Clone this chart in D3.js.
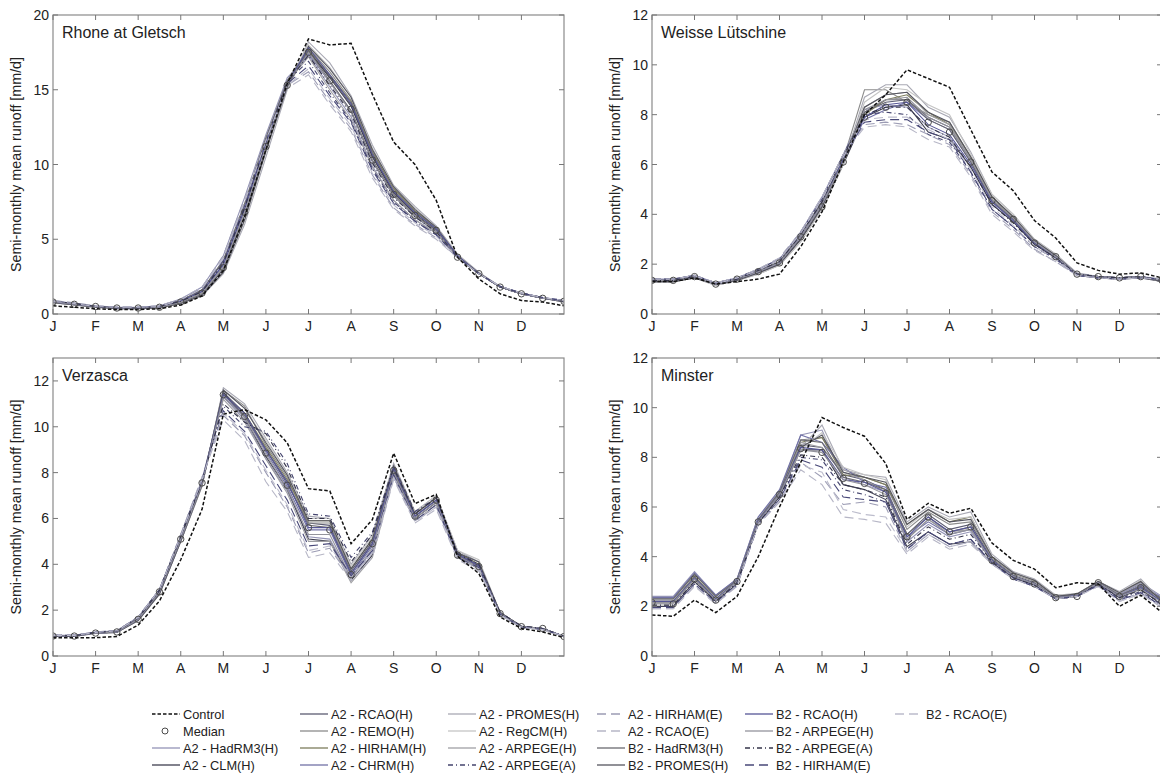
<!DOCTYPE html>
<html>
<head>
<meta charset="utf-8">
<script src="https://cdn.jsdelivr.net/npm/d3@7/dist/d3.min.js"></script>
<style>
  body { margin: 0; background: #fff; }
  text { font-family: Arial, "Liberation Sans", sans-serif; fill: #222; }
</style>
</head>
<body>
<svg id="chart" width="1160" height="776"></svg>
<script>
// month tick labels (ticks at the start of each month, semi-monthly points)
const months = ["J", "F", "M", "A", "M", "J", "J", "A", "S", "O", "N", "D"];

const scenarioNames = [
  "A2 - RCAO(H)", "A2 - REMO(H)", "A2 - HadRM3(H)", "A2 - HIRHAM(H)", "A2 - CLM(H)",
  "A2 - CHRM(H)", "A2 - PROMES(H)", "A2 - RegCM(H)", "A2 - ARPEGE(H)", "A2 - ARPEGE(A)",
  "A2 - HIRHAM(E)", "A2 - RCAO(E)", "B2 - HadRM3(H)", "B2 - PROMES(H)", "B2 - RCAO(H)",
  "B2 - ARPEGE(H)", "B2 - ARPEGE(A)", "B2 - HIRHAM(E)", "B2 - RCAO(E)"
];

// legend entries, filled column by column (4 per column)
const legendOrder = [
  "Control", "Median", "A2 - HadRM3(H)", "A2 - CLM(H)",
  "A2 - RCAO(H)", "A2 - REMO(H)", "A2 - HIRHAM(H)", "A2 - CHRM(H)",
  "A2 - PROMES(H)", "A2 - RegCM(H)", "A2 - ARPEGE(H)", "A2 - ARPEGE(A)",
  "A2 - HIRHAM(E)", "A2 - RCAO(E)", "B2 - HadRM3(H)", "B2 - PROMES(H)",
  "B2 - RCAO(H)", "B2 - ARPEGE(H)", "B2 - ARPEGE(A)", "B2 - HIRHAM(E)",
  "B2 - RCAO(E)"
];

// ---- Rhone at Gletsch ----
const rhoneControl = [0.55,0.45,0.35,0.3,0.3,0.35,0.6,1.2,2.9,6.5,11.0,15.4,18.4,18.0,18.1,14.7,11.5,10.0,7.6,3.8,2.35,1.35,0.9,0.8,0.55];
const rhoneMedian = [0.8,0.65,0.5,0.4,0.4,0.45,0.8,1.4,3.1,6.8,11.2,15.3,17.5,15.6,13.7,10.3,8.0,6.6,5.6,3.8,2.7,1.8,1.35,1.05,0.85];
const rhoneScenarios = [
  [0.85,0.7,0.5,0.4,0.4,0.5,0.9,1.6,3.5,7.2,11.6,15.5,17.6,15.9,14.0,10.6,8.2,6.8,5.7,3.9,2.7,1.8,1.35,1.05,0.85],
  [0.8,0.65,0.5,0.4,0.4,0.45,0.8,1.4,3.2,7.0,11.4,15.6,17.8,16.2,14.3,10.9,8.3,6.9,5.7,3.9,2.7,1.8,1.35,1.05,0.85],
  [0.9,0.7,0.55,0.45,0.45,0.55,1.0,1.8,3.9,7.8,12.0,15.8,17.3,15.2,13.2,9.9,7.6,6.3,5.4,3.8,2.7,1.85,1.4,1.1,0.9],
  [0.8,0.65,0.5,0.4,0.4,0.45,0.8,1.4,3.1,6.9,11.3,15.4,17.7,16.0,14.2,10.8,8.4,6.9,5.8,3.9,2.7,1.8,1.35,1.05,0.85],
  [0.8,0.65,0.5,0.4,0.4,0.45,0.75,1.3,3.0,6.6,11.0,15.2,17.6,15.8,13.9,10.5,8.1,6.7,5.6,3.8,2.7,1.8,1.35,1.05,0.85],
  [0.85,0.7,0.5,0.4,0.4,0.5,0.85,1.5,3.3,7.1,11.5,15.4,17.4,15.5,13.6,10.2,7.9,6.5,5.5,3.8,2.7,1.8,1.35,1.05,0.85],
  [0.75,0.6,0.45,0.35,0.35,0.4,0.7,1.2,2.7,6.0,10.5,15.0,18.2,16.8,14.6,11.3,8.6,7.2,5.9,4.0,2.8,1.85,1.4,1.05,0.8],
  [0.75,0.6,0.45,0.35,0.35,0.4,0.7,1.25,2.8,6.2,10.8,15.2,18.0,16.5,14.5,11.1,8.5,7.1,5.8,3.95,2.75,1.8,1.35,1.05,0.8],
  [0.8,0.65,0.5,0.4,0.4,0.45,0.8,1.45,3.2,6.9,11.3,15.5,17.2,15.0,13.0,9.8,7.6,6.3,5.4,3.8,2.7,1.8,1.35,1.05,0.85],
  [0.85,0.7,0.5,0.4,0.4,0.5,0.9,1.6,3.5,7.3,11.6,15.6,16.9,14.8,12.9,9.7,7.5,6.2,5.3,3.8,2.7,1.85,1.4,1.1,0.9],
  [0.9,0.75,0.55,0.45,0.45,0.55,1.0,1.8,3.9,7.7,11.8,15.3,16.2,14.2,12.4,9.3,7.1,6.0,5.1,3.75,2.7,1.85,1.4,1.1,0.9],
  [0.9,0.75,0.55,0.45,0.45,0.55,1.0,1.8,3.8,7.6,11.7,15.1,16.0,14.0,12.2,9.1,7.0,5.9,5.0,3.75,2.7,1.85,1.4,1.1,0.9],
  [0.85,0.7,0.5,0.4,0.4,0.5,0.9,1.6,3.6,7.4,11.8,15.6,17.6,15.6,13.6,10.3,8.0,6.6,5.6,3.85,2.7,1.8,1.35,1.05,0.85],
  [0.75,0.6,0.45,0.35,0.35,0.4,0.7,1.25,2.8,6.3,10.9,15.2,17.9,16.4,14.5,11.0,8.5,7.0,5.8,3.9,2.75,1.8,1.35,1.05,0.8],
  [0.8,0.65,0.5,0.4,0.4,0.45,0.85,1.5,3.3,7.0,11.4,15.4,17.8,16.0,14.1,10.7,8.2,6.8,5.7,3.9,2.7,1.8,1.35,1.05,0.85],
  [0.8,0.65,0.5,0.4,0.4,0.45,0.8,1.4,3.1,6.8,11.2,15.4,17.5,15.5,13.5,10.2,7.9,6.5,5.5,3.8,2.7,1.8,1.35,1.05,0.85],
  [0.85,0.7,0.5,0.4,0.4,0.5,0.85,1.5,3.4,7.1,11.5,15.5,17.3,15.3,13.4,10.1,7.8,6.5,5.5,3.8,2.7,1.8,1.4,1.1,0.85],
  [0.85,0.7,0.5,0.45,0.45,0.5,0.95,1.7,3.6,7.4,11.6,15.4,16.6,14.6,12.8,9.6,7.4,6.2,5.3,3.8,2.7,1.85,1.4,1.1,0.9],
  [0.85,0.7,0.5,0.45,0.45,0.5,0.95,1.7,3.7,7.5,11.6,15.3,16.4,14.4,12.6,9.4,7.3,6.1,5.2,3.8,2.7,1.85,1.4,1.1,0.9]
];

// ---- Weisse Lütschine ----
const weisseControl = [1.3,1.3,1.45,1.2,1.3,1.4,1.6,2.7,4.1,6.1,8.0,8.8,9.8,9.45,9.1,7.4,5.7,4.95,3.75,3.05,2.05,1.75,1.6,1.65,1.45];
const weisseMedian = [1.35,1.35,1.5,1.2,1.4,1.7,2.05,3.1,4.3,6.1,7.9,8.3,8.5,7.7,7.3,6.1,4.55,3.8,2.85,2.3,1.6,1.5,1.45,1.5,1.35];
const weisseScenarios = [
  [1.3,1.35,1.5,1.2,1.4,1.7,2.1,3.2,4.5,6.3,8.1,8.5,8.6,7.9,7.5,6.2,4.6,3.85,2.9,2.3,1.6,1.5,1.45,1.5,1.3],
  [1.35,1.35,1.5,1.2,1.4,1.7,2.0,3.0,4.3,6.2,9.0,9.0,8.5,8.0,7.7,6.3,4.7,3.9,2.9,2.35,1.6,1.5,1.45,1.5,1.35],
  [1.4,1.4,1.55,1.25,1.45,1.8,2.2,3.3,4.7,6.4,8.2,8.4,8.3,7.5,7.1,5.9,4.4,3.7,2.8,2.25,1.6,1.5,1.45,1.5,1.4],
  [1.3,1.3,1.45,1.2,1.35,1.65,2.0,3.0,4.3,6.1,8.0,8.6,8.8,8.1,7.6,6.3,4.7,3.9,2.95,2.35,1.6,1.5,1.45,1.5,1.3],
  [1.3,1.3,1.5,1.15,1.35,1.65,2.0,3.0,4.2,6.0,7.9,8.3,8.4,7.3,7.0,5.9,4.4,3.7,2.8,2.25,1.55,1.45,1.4,1.45,1.3],
  [1.35,1.35,1.5,1.2,1.4,1.7,2.05,3.1,4.4,6.2,7.8,8.2,8.5,7.8,7.4,6.1,4.5,3.8,2.85,2.3,1.6,1.5,1.45,1.5,1.35],
  [1.3,1.3,1.45,1.15,1.35,1.6,1.95,2.9,4.2,6.0,8.7,9.2,9.2,8.3,7.9,6.5,4.8,4.0,3.0,2.4,1.65,1.5,1.45,1.5,1.3],
  [1.3,1.3,1.45,1.15,1.35,1.6,1.95,2.9,4.2,6.0,8.5,9.1,9.0,8.4,8.0,6.4,4.8,4.0,3.0,2.4,1.6,1.5,1.45,1.5,1.3],
  [1.35,1.35,1.5,1.2,1.4,1.7,2.1,3.1,4.4,6.2,8.3,8.8,8.9,8.0,7.6,6.2,4.6,3.85,2.9,2.3,1.6,1.5,1.45,1.5,1.35],
  [1.4,1.4,1.55,1.25,1.45,1.8,2.2,3.3,4.6,6.4,8.0,8.1,8.0,7.2,6.9,5.7,4.2,3.5,2.7,2.2,1.55,1.45,1.4,1.45,1.4],
  [1.4,1.4,1.55,1.25,1.45,1.8,2.25,3.3,4.7,6.4,7.6,7.7,7.6,7.2,6.8,5.6,4.1,3.4,2.6,2.1,1.55,1.45,1.4,1.45,1.4],
  [1.4,1.4,1.55,1.25,1.45,1.8,2.25,3.3,4.7,6.4,7.5,7.6,7.5,7.0,6.7,5.5,4.0,3.3,2.55,2.1,1.55,1.45,1.4,1.45,1.4],
  [1.35,1.35,1.5,1.2,1.4,1.75,2.1,3.2,4.5,6.3,8.1,8.6,8.6,7.8,7.4,6.1,4.55,3.8,2.85,2.3,1.6,1.5,1.45,1.5,1.35],
  [1.3,1.3,1.45,1.2,1.35,1.65,2.0,3.0,4.3,6.1,8.3,8.8,8.9,8.1,7.7,6.3,4.7,3.9,2.95,2.35,1.6,1.5,1.45,1.5,1.3],
  [1.35,1.35,1.5,1.2,1.4,1.7,2.05,3.1,4.4,6.2,7.9,8.4,8.5,7.6,7.2,6.0,4.5,3.75,2.85,2.3,1.6,1.5,1.45,1.5,1.35],
  [1.35,1.35,1.5,1.2,1.4,1.7,2.05,3.1,4.4,6.1,8.2,8.6,8.7,7.9,7.5,6.2,4.6,3.85,2.9,2.3,1.6,1.5,1.45,1.5,1.35],
  [1.35,1.35,1.5,1.2,1.4,1.75,2.1,3.2,4.5,6.3,8.0,8.3,8.3,7.5,7.1,5.9,4.4,3.65,2.8,2.25,1.6,1.5,1.45,1.5,1.35],
  [1.4,1.4,1.55,1.2,1.45,1.75,2.2,3.25,4.6,6.3,7.7,7.8,7.8,7.3,7.0,5.7,4.2,3.5,2.7,2.2,1.55,1.45,1.4,1.45,1.4],
  [1.4,1.4,1.55,1.2,1.45,1.75,2.2,3.25,4.6,6.3,7.8,7.9,7.9,7.4,7.0,5.8,4.3,3.55,2.7,2.2,1.55,1.45,1.4,1.45,1.4]
];

// ---- Verzasca ----
const verzascaControl = [0.8,0.8,0.8,0.85,1.35,2.4,4.2,6.4,10.55,10.75,10.3,9.3,7.3,7.2,4.9,5.95,8.85,6.65,7.05,4.35,3.6,1.7,1.2,1.05,0.8];
const verzascaMedian = [0.87,0.87,1.0,1.05,1.6,2.8,5.1,7.55,11.4,10.45,8.85,7.45,5.6,5.5,3.55,4.9,8.1,6.1,6.8,4.4,3.9,1.85,1.28,1.2,0.85];
const verzascaScenarios = [
  [0.87,0.87,1.0,1.1,1.65,2.9,5.2,7.6,11.5,10.6,9.0,7.5,5.8,5.7,3.7,5.0,8.2,6.2,6.9,4.5,4.0,1.9,1.3,1.2,0.85],
  [0.87,0.87,1.0,1.05,1.6,2.8,5.1,7.5,11.6,10.9,9.2,7.8,5.8,5.8,3.6,4.9,8.1,6.1,6.8,4.4,3.9,1.85,1.3,1.2,0.85],
  [0.9,0.9,1.05,1.1,1.7,2.9,5.2,7.7,11.3,10.3,8.6,7.2,5.2,5.1,3.4,4.6,7.9,6.0,6.7,4.4,3.9,1.85,1.3,1.2,0.87],
  [0.87,0.87,1.0,1.05,1.6,2.8,5.1,7.5,11.4,10.6,9.1,7.7,5.9,5.9,3.8,5.1,8.3,6.2,6.9,4.5,4.0,1.9,1.3,1.2,0.85],
  [0.85,0.85,1.0,1.05,1.6,2.75,5.0,7.5,11.5,10.4,8.7,7.3,5.1,5.0,3.3,4.4,8.0,6.0,6.7,4.4,3.9,1.85,1.28,1.18,0.85],
  [0.87,0.87,1.0,1.05,1.6,2.8,5.1,7.55,11.3,10.5,8.9,7.4,5.5,5.5,3.5,4.8,8.1,6.1,6.8,4.4,3.9,1.85,1.28,1.2,0.85],
  [0.85,0.85,0.98,1.03,1.55,2.7,5.0,7.4,11.7,11.0,9.5,8.0,6.1,6.0,4.0,5.3,8.4,6.3,7.0,4.6,4.1,1.9,1.3,1.2,0.85],
  [0.85,0.85,0.98,1.03,1.55,2.7,5.0,7.4,11.6,10.8,9.4,7.9,6.0,6.0,3.9,5.2,8.3,6.3,7.0,4.6,4.2,1.9,1.3,1.2,0.85],
  [0.87,0.87,1.0,1.05,1.6,2.8,5.1,7.5,11.2,10.2,8.6,7.1,5.0,5.0,3.2,4.3,7.8,5.9,6.6,4.3,3.8,1.8,1.25,1.15,0.85],
  [0.9,0.9,1.05,1.1,1.7,2.9,5.3,7.7,10.9,10.0,9.8,8.4,6.2,6.1,4.3,5.4,8.3,6.3,6.9,4.5,4.0,1.9,1.3,1.2,0.87],
  [0.9,0.9,1.05,1.1,1.7,2.9,5.3,7.8,10.5,9.6,8.0,6.5,4.5,4.7,3.4,4.5,7.8,5.9,6.5,4.3,3.8,1.8,1.25,1.15,0.87],
  [0.9,0.9,1.05,1.1,1.7,2.9,5.3,7.8,10.3,9.4,7.6,6.3,4.3,4.5,3.3,4.3,7.7,5.8,6.4,4.2,3.7,1.8,1.25,1.15,0.87],
  [0.88,0.88,1.0,1.08,1.65,2.85,5.2,7.6,11.4,10.5,9.0,7.6,5.7,5.6,3.6,4.9,8.1,6.1,6.8,4.4,3.95,1.85,1.28,1.2,0.85],
  [0.85,0.85,1.0,1.03,1.55,2.7,5.0,7.45,11.6,10.8,9.3,7.9,5.9,5.9,3.8,5.1,8.3,6.2,6.9,4.5,4.1,1.9,1.3,1.2,0.85],
  [0.87,0.87,1.0,1.05,1.6,2.8,5.1,7.55,11.4,10.6,9.0,7.6,5.6,5.6,3.6,4.9,8.2,6.1,6.8,4.45,3.95,1.85,1.28,1.2,0.85],
  [0.87,0.87,1.0,1.05,1.6,2.8,5.1,7.5,11.3,10.4,8.8,7.3,5.3,5.3,3.4,4.7,8.0,6.0,6.7,4.35,3.85,1.85,1.28,1.2,0.85],
  [0.88,0.88,1.02,1.08,1.65,2.85,5.2,7.6,11.0,10.2,9.7,8.2,6.0,6.0,4.1,5.3,8.2,6.2,6.9,4.45,4.0,1.9,1.3,1.2,0.87],
  [0.9,0.9,1.03,1.1,1.68,2.9,5.25,7.7,10.7,9.8,8.3,6.8,4.8,4.9,3.5,4.6,7.9,5.9,6.6,4.3,3.85,1.82,1.26,1.16,0.87],
  [0.9,0.9,1.03,1.1,1.68,2.9,5.25,7.7,10.6,9.7,8.1,6.6,4.6,4.8,3.4,4.5,7.8,5.85,6.5,4.25,3.8,1.8,1.25,1.15,0.87]
];

// ---- Minster ----
const minsterControl = [1.65,1.6,2.25,1.75,2.4,4.0,6.0,7.8,9.6,9.2,8.85,7.75,5.5,6.15,5.75,5.95,4.55,3.85,3.5,2.75,2.95,2.9,2.0,2.45,1.75];
const minsterMedian = [2.15,2.1,3.1,2.25,3.0,5.4,6.5,8.35,8.2,7.15,6.95,6.55,4.8,5.6,5.0,5.2,3.85,3.2,2.9,2.35,2.4,2.95,2.4,2.75,2.2];
const minsterScenarios = [
  [2.2,2.2,3.2,2.3,3.0,5.5,6.5,8.5,8.4,7.3,7.1,6.7,4.9,5.7,5.1,5.3,3.9,3.25,2.95,2.35,2.45,2.95,2.45,2.8,2.2],
  [2.3,2.3,3.3,2.4,3.05,5.5,6.6,8.7,8.8,7.5,7.2,6.9,5.1,5.8,5.3,5.4,3.95,3.3,3.0,2.4,2.45,2.95,2.5,2.9,2.3],
  [2.4,2.4,3.4,2.45,3.1,5.6,6.6,8.9,9.1,7.2,6.9,6.6,4.6,5.3,4.8,5.0,3.8,3.2,2.9,2.35,2.4,2.9,2.5,2.95,2.4],
  [2.2,2.2,3.2,2.3,3.0,5.4,6.5,8.6,8.8,7.3,7.2,6.9,5.3,5.9,5.4,5.6,4.0,3.35,3.05,2.4,2.5,3.0,2.55,3.0,2.25],
  [2.0,2.0,3.0,2.2,2.9,5.35,6.4,8.3,8.3,6.9,6.7,6.3,4.4,5.0,4.5,4.6,3.75,3.15,2.85,2.3,2.4,2.9,2.35,2.7,2.05],
  [2.35,2.35,3.35,2.45,3.1,5.6,6.7,8.9,8.6,7.6,7.0,6.8,4.8,5.4,4.9,5.1,3.85,3.2,2.9,2.35,2.45,2.9,2.45,2.85,2.35],
  [2.1,2.1,3.1,2.25,3.0,5.4,6.5,8.4,9.3,7.5,7.3,7.2,5.4,6.0,5.6,5.8,4.1,3.4,3.1,2.45,2.5,3.0,2.6,3.1,2.2],
  [2.1,2.1,3.1,2.25,3.0,5.4,6.5,8.3,9.0,7.6,7.3,7.1,5.2,5.9,5.5,5.6,4.0,3.35,3.05,2.45,2.5,3.0,2.55,3.05,2.15],
  [2.2,2.2,3.15,2.3,3.0,5.5,6.6,8.6,8.4,7.4,7.1,6.6,4.7,5.5,5.0,5.1,3.85,3.2,2.9,2.35,2.4,2.95,2.45,2.75,2.2],
  [2.0,2.0,2.9,2.15,2.9,5.3,6.3,8.0,7.9,6.7,6.5,6.2,4.3,5.0,4.5,4.7,3.75,3.15,2.85,2.3,2.4,2.85,2.3,2.6,2.05],
  [1.95,1.95,2.85,2.1,2.85,5.3,6.2,7.8,7.2,6.1,6.2,6.0,4.2,4.9,4.4,4.6,3.7,3.1,2.8,2.3,2.4,2.85,2.25,2.55,2.0],
  [1.9,1.9,2.8,2.1,2.8,5.3,6.2,7.5,6.9,5.6,5.5,5.35,4.1,4.8,4.3,4.5,3.7,3.1,2.8,2.3,2.4,2.8,2.2,2.5,1.95],
  [2.3,2.3,3.3,2.4,3.05,5.5,6.6,8.7,8.6,7.2,7.0,6.7,4.9,5.6,5.0,5.2,3.85,3.2,2.9,2.35,2.4,2.95,2.45,2.8,2.3],
  [2.15,2.15,3.1,2.25,3.0,5.4,6.5,8.4,8.9,7.4,7.2,7.0,5.3,5.9,5.4,5.5,4.0,3.35,3.05,2.4,2.5,3.0,2.55,3.0,2.2],
  [2.2,2.2,3.15,2.3,3.0,5.45,6.5,8.4,8.3,7.1,7.0,6.6,4.8,5.6,5.0,5.2,3.85,3.2,2.9,2.35,2.4,2.95,2.4,2.75,2.2],
  [2.15,2.15,3.1,2.25,3.0,5.4,6.5,8.3,8.2,7.1,6.9,6.5,4.7,5.5,4.9,5.1,3.8,3.2,2.9,2.35,2.4,2.95,2.4,2.7,2.15],
  [2.05,2.05,3.0,2.2,2.95,5.35,6.4,8.1,8.0,6.9,6.7,6.4,4.5,5.2,4.7,4.9,3.8,3.15,2.85,2.3,2.4,2.9,2.35,2.65,2.1],
  [1.95,1.95,2.9,2.15,2.85,5.3,6.3,7.9,7.6,6.4,6.3,6.2,4.3,5.0,4.5,4.7,3.75,3.1,2.8,2.3,2.4,2.85,2.25,2.55,2.0],
  [1.9,1.9,2.85,2.1,2.85,5.3,6.25,7.7,7.4,5.9,5.7,5.6,4.2,4.9,4.4,4.6,3.7,3.1,2.8,2.3,2.4,2.8,2.2,2.5,1.95]
];

// line styles per scenario (same order as scenarioNames)
const scenarioColors = [
  "#5c5c72", "#8c8c8c", "#9494b6", "#7c7c5c", "#3e3e50", "#7272a6", "#a9a9b4", "#c4c4c4",
  "#a0a0a4", "#44446e", "#9c9cb4", "#b6b6c6", "#6a6a70", "#55555f", "#565696", "#94949c",
  "#34344a", "#484878", "#bcbccc"
];
const scenarioDash = [
  null, null, null, null, null, null, null, null, null, "5,3,1,3",
  "9,5", "9,5", null, null, null, null, "5,3,1,3", "9,5", "9,5"
];

const panels = [
  { title: "Rhone at Gletsch", control: rhoneControl, median: rhoneMedian, scen: rhoneScenarios,
    yMax: 20, ticks: [0, 5, 10, 15, 20], x0: 53, x1: 564, y0: 15, y1: 314 },
  { title: "Weisse Lütschine", control: weisseControl, median: weisseMedian, scen: weisseScenarios,
    yMax: 12, ticks: [0, 2, 4, 6, 8, 10, 12], x0: 652, x1: 1162, y0: 15, y1: 314 },
  { title: "Verzasca", control: verzascaControl, median: verzascaMedian, scen: verzascaScenarios,
    yMax: 13, ticks: [0, 2, 4, 6, 8, 10, 12], x0: 53, x1: 564, y0: 358, y1: 656 },
  { title: "Minster", control: minsterControl, median: minsterMedian, scen: minsterScenarios,
    yMax: 12, ticks: [0, 2, 4, 6, 8, 10, 12], x0: 652, x1: 1162, y0: 358, y1: 656 }
];

const svg = d3.select("#chart");

panels.forEach((p, pi) => {
  const x = d3.scaleLinear().domain([0, 12]).range([p.x0, p.x1]);
  const y = d3.scaleLinear().domain([0, p.yMax]).range([p.y1, p.y0]);
  const g = svg.append("g");

  g.append("clipPath").attr("id", "clip" + pi)
    .append("rect").attr("x", p.x0).attr("y", p.y0)
    .attr("width", p.x1 - p.x0).attr("height", p.y1 - p.y0);

  const line = d3.line()
    .x((d, i) => x(i / 2))
    .y(d => y(d));

  const plot = g.append("g").attr("clip-path", "url(#clip" + pi + ")");

  plot.selectAll("path.scen")
    .data(p.scen)
    .enter()
    .append("path")
    .attr("class", "scen")
    .attr("d", line)
    .attr("fill", "none")
    .attr("stroke", (d, i) => scenarioColors[i])
    .attr("stroke-width", 1.1)
    .attr("stroke-dasharray", (d, i) => scenarioDash[i]);

  plot.selectAll("circle.med")
    .data(p.median)
    .enter()
    .append("circle")
    .attr("class", "med")
    .attr("cx", (d, i) => x(i / 2))
    .attr("cy", d => y(d))
    .attr("r", 3.2)
    .attr("fill", "none")
    .attr("stroke", "#4a4a4a")
    .attr("stroke-width", 1);

  plot.append("path")
    .attr("d", line(p.control))
    .attr("fill", "none")
    .attr("stroke", "#111")
    .attr("stroke-width", 1.5)
    .attr("stroke-dasharray", "3.5,2");

  // frame
  g.append("rect")
    .attr("x", p.x0).attr("y", p.y0)
    .attr("width", p.x1 - p.x0).attr("height", p.y1 - p.y0)
    .attr("fill", "none").attr("stroke", "#8a8a8a").attr("stroke-width", 1.2);

  // x axis: inward ticks bottom & top, month letters below
  const monthPos = d3.range(12);
  g.selectAll("line.xtb").data(monthPos).enter().append("line")
    .attr("x1", d => x(d)).attr("x2", d => x(d))
    .attr("y1", p.y1).attr("y2", p.y1 - 5)
    .attr("stroke", "#777");
  g.selectAll("line.xtt").data(monthPos).enter().append("line")
    .attr("x1", d => x(d)).attr("x2", d => x(d))
    .attr("y1", p.y0).attr("y2", p.y0 + 5)
    .attr("stroke", "#777");
  g.selectAll("text.xl").data(months).enter().append("text")
    .attr("x", (d, i) => x(i))
    .attr("y", p.y1 + 17)
    .attr("text-anchor", "middle")
    .style("font-size", "14px")
    .text(d => d);

  // y axis: inward ticks left & right
  g.selectAll("line.ytl").data(p.ticks).enter().append("line")
    .attr("x1", p.x0).attr("x2", p.x0 + 5)
    .attr("y1", d => y(d)).attr("y2", d => y(d))
    .attr("stroke", "#777");
  g.selectAll("line.ytr").data(p.ticks).enter().append("line")
    .attr("x1", p.x1).attr("x2", p.x1 - 5)
    .attr("y1", d => y(d)).attr("y2", d => y(d))
    .attr("stroke", "#777");
  g.selectAll("text.yl").data(p.ticks).enter().append("text")
    .attr("x", p.x0 - 4)
    .attr("y", d => y(d) + 5)
    .attr("text-anchor", "end")
    .style("font-size", "14px")
    .text(d => d);

  g.append("text")
    .attr("transform", "translate(" + (p.x0 - 32) + "," + ((p.y0 + p.y1) / 2) + ") rotate(-90)")
    .attr("text-anchor", "middle")
    .style("font-size", "14.3px")
    .text("Semi-monthly mean runoff [mm/d]");

  g.append("text")
    .attr("x", p.x0 + 9)
    .attr("y", p.y0 + 23)
    .style("font-size", "16px")
    .text(p.title);
});

// legend: 4 rows per column
const legendCols = [152, 300, 448, 597, 745, 895];
const leg = svg.append("g");
legendOrder.forEach((name, k) => {
  const lx = legendCols[Math.floor(k / 4)];
  const ly = 714 + (k % 4) * 17;
  if (name === "Control") {
    leg.append("line").attr("x1", lx).attr("x2", lx + 28).attr("y1", ly).attr("y2", ly)
      .attr("stroke", "#111").attr("stroke-width", 1.3).attr("stroke-dasharray", "3.5,2");
  } else if (name === "Median") {
    leg.append("circle").attr("cx", lx + 13).attr("cy", ly).attr("r", 3)
      .attr("fill", "none").attr("stroke", "#4a4a4a");
  } else {
    const s = scenarioNames.indexOf(name);
    leg.append("line").attr("x1", lx).attr("x2", lx + 28).attr("y1", ly).attr("y2", ly)
      .attr("stroke", scenarioColors[s]).attr("stroke-width", 1.3)
      .attr("stroke-dasharray", scenarioDash[s]);
  }
  leg.append("text")
    .attr("x", lx + 31)
    .attr("y", ly + 4.5)
    .style("font-size", "12.8px")
    .text(name);
});
</script>
</body>
</html>
